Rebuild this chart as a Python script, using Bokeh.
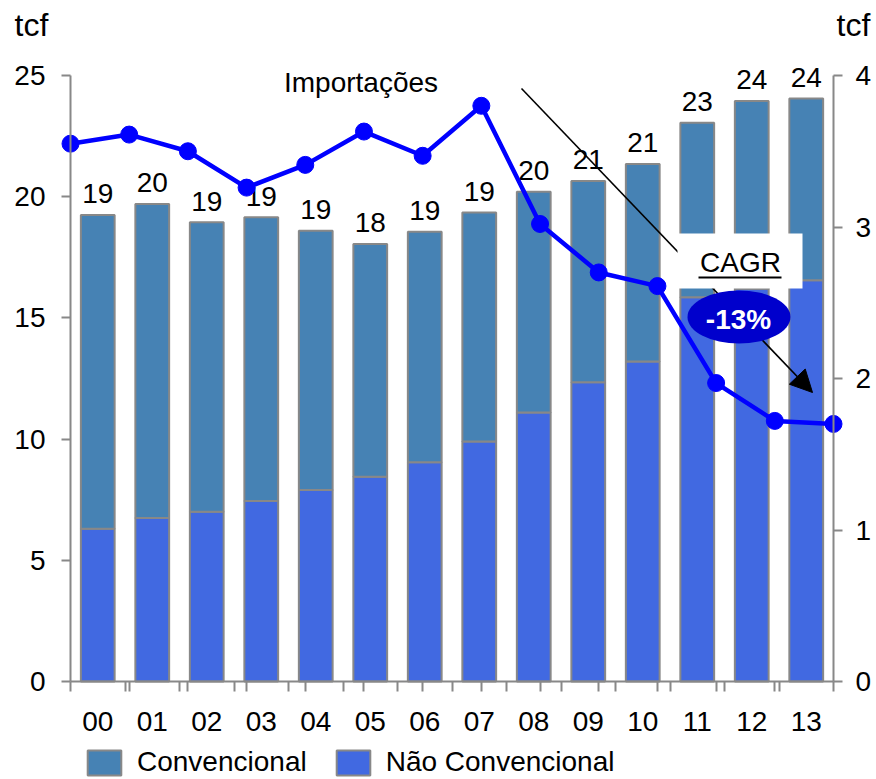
from bokeh.plotting import figure
from bokeh.models import (Range1d, LinearAxis, FixedTicker, Legend, LegendItem,
                          Label, Arrow, NormalHead, BoxAnnotation, ColumnDataSource)
from bokeh.core.properties import value
from bokeh.embed import file_html
from bokeh.resources import INLINE

# Gas production by source (tcf) and imports (tcf, right axis)
years = ["00", "01", "02", "03", "04", "05", "06", "07", "08", "09", "10", "11", "12", "13"]
nao_convencional = [6.3, 6.75, 7.0, 7.45, 7.9, 8.45, 9.05, 9.9, 11.1, 12.35, 13.2, 15.85, 16.2, 16.55]
convencional = [12.95, 12.95, 11.95, 11.7, 10.7, 9.6, 9.5, 9.45, 9.1, 8.3, 8.15, 7.2, 7.75, 7.5]
importacoes = [3.55, 3.61, 3.50, 3.26, 3.41, 3.63, 3.47, 3.80, 3.02, 2.70, 2.61, 1.97, 1.72, 1.70]
left_ticks = [0, 5, 10, 15, 20, 25]
right_ticks = [0, 1, 2, 3, 4]
LEFT_MAX, RIGHT_MAX = 25, 4

# canvas geometry (pixels): the plotting area spans the whole canvas and the
# axes are pinned inside it, so titles and the legend are never clipped
W, H = 876, 779
AX_L, AX_R, AX_T, AX_B = 70, 833, 75, 681

FONT = "Liberation Sans"
AXIS_GREY = "#888888"
C_CONV = "#4682B4"
C_NAO = "#4169E1"
C_LINE = "#0000FF"

n = len(years)


def fx(px):
    """canvas x pixel -> bar-category units"""
    return (px - AX_L) * n / (AX_R - AX_L)


def fy(py):
    """canvas y pixel -> left-axis units"""
    return (AX_B - py) * LEFT_MAX / (AX_B - AX_T)


centers = [i + 0.5 for i in range(n)]
totals = [a + b for a, b in zip(nao_convencional, convencional)]

src = ColumnDataSource(dict(
    x=centers, years=years, nao=nao_convencional, conv=convencional,
    total=totals, label=[f"{t:.0f}" for t in totals],
))
line_src = ColumnDataSource(dict(x=list(range(n)), y=importacoes))

p = figure(width=W, height=H, x_range=Range1d(fx(0), fx(W)), y_range=Range1d(fy(H), fy(0)),
           output_backend="svg", toolbar_location=None, min_border=0,
           min_border_left=0, min_border_right=0, min_border_top=0, min_border_bottom=0,
           outline_line_color=None, background_fill_color="white", border_fill_color="white")
p.extra_x_ranges = {"line": Range1d((0 - AX_L) * (n - 1) / (AX_R - AX_L),
                                    (W - AX_L) * (n - 1) / (AX_R - AX_L))}
p.extra_y_ranges = {"imp": Range1d((AX_B - H) * RIGHT_MAX / (AX_B - AX_T),
                                   AX_B * RIGHT_MAX / (AX_B - AX_T))}
p.grid.visible = False


def style_axis(ax, standoff):
    ax.axis_line_color = AXIS_GREY
    ax.axis_line_width = 2
    ax.major_tick_line_color = AXIS_GREY
    ax.major_tick_line_width = 2
    ax.major_label_text_font = FONT
    ax.major_label_text_font_size = "28px"
    ax.major_label_text_color = "black"
    ax.major_label_standoff = standoff


# x axis: category labels at bar centres, short ticks at bar edges and at import points
line_pos = [i * n / (n - 1) for i in range(n)]
xa = p.xaxis[0]
xa.fixed_location = 0
xa.bounds = (0, n)
xa.ticker = FixedTicker(ticks=centers, minor_ticks=list(range(n + 1)) + line_pos)
xa.major_label_overrides = {c: y for c, y in zip(centers, years)}
style_axis(xa, 20)
xa.major_tick_out = 0
xa.major_tick_in = 0
xa.minor_tick_out = 10
xa.minor_tick_in = 0
xa.minor_tick_line_color = AXIS_GREY
xa.minor_tick_line_width = 2

ya = p.yaxis[0]
ya.fixed_location = 0
ya.bounds = (0, LEFT_MAX)
ya.ticker = FixedTicker(ticks=left_ticks, minor_ticks=[])
style_axis(ya, 16)
ya.major_tick_out = 9
ya.major_tick_in = 0

ra = LinearAxis(y_range_name="imp", ticker=FixedTicker(ticks=right_ticks, minor_ticks=[]))
ra.fixed_location = n
ra.bounds = (0, RIGHT_MAX)
style_axis(ra, 13)
ra.major_tick_out = 9
ra.major_tick_in = 0
p.add_layout(ra, "right")

# stacked bars
bars = p.vbar_stack(["nao", "conv"], x="x", width=0.62, source=src,
                    fill_color=[C_NAO, C_CONV], line_color=AXIS_GREY, line_width=2)

# total labels above bars
p.text(x="x", y="total", text="label", source=src, text_align="center",
       text_baseline="middle", y_offset=-21, text_font=value(FONT),
       text_font_size="28px", text_color="black")

# imports line on its own x/y ranges
p.line(x="x", y="y", source=line_src, x_range_name="line", y_range_name="imp",
       line_color=C_LINE, line_width=4.5)
p.scatter(x="x", y="y", source=line_src, x_range_name="line", y_range_name="imp",
          size=17, fill_color=C_LINE, line_color=C_LINE)

# annotations
p.add_layout(Label(x=fx(360.5), y=fy(82), text="Importações", text_align="center",
                   text_baseline="middle", text_font=FONT, text_font_size="28px",
                   text_color="black"))
p.add_layout(Arrow(x_start=fx(521), y_start=fy(88), x_end=fx(812), y_end=fy(392),
                   line_color="black", line_width=1.6,
                   end=NormalHead(size=22, fill_color="black", line_color="black")))
p.add_layout(BoxAnnotation(left=fx(677), right=fx(802), top=fy(233), bottom=fy(288),
                           fill_color="white", fill_alpha=1, line_color=None))
p.add_layout(Label(x=fx(740), y=fy(262), text="CAGR", text_align="center",
                   text_baseline="middle", text_font=FONT, text_font_size="28px",
                   text_color="black", level="overlay"))
p.segment(x0=[fx(698)], y0=[fy(277)], x1=[fx(781)], y1=[fy(277)], line_color="black",
          line_width=2, level="overlay")
p.ellipse(x=[fx(738.5)], y=[fy(316.5)], width=fx(738.5 + 51.5) - fx(738.5 - 51.5),
          height=fy(316.5 - 26.5) - fy(316.5 + 26.5), fill_color="#0000CC",
          line_color=None, level="overlay")
p.add_layout(Label(x=fx(738), y=fy(319), text="-13%", text_align="center",
                   text_baseline="middle", text_font=FONT, text_font_size="28px",
                   text_font_style="bold", text_color="white", level="overlay"))

# unit labels above the axes
p.add_layout(Label(x=fx(14), y=fy(24), text="tcf", text_align="left",
                   text_baseline="middle", text_font=FONT, text_font_size="32px",
                   text_color="black"))
p.add_layout(Label(x=fx(836), y=fy(24), text="tcf", text_align="left",
                   text_baseline="middle", text_font=FONT, text_font_size="32px",
                   text_color="black"))

# legend under the category labels
legend = Legend(items=[LegendItem(label="Convencional", renderers=[bars[1]]),
                       LegendItem(label="Não Convencional", renderers=[bars[0]])],
                orientation="horizontal", location=(83, 1),
                glyph_width=42, glyph_height=31, label_standoff=12, spacing=25,
                padding=0, margin=0, border_line_color=None, background_fill_alpha=0,
                label_text_font=FONT, label_text_font_size="28px", label_text_color="black")
p.add_layout(legend, "center")

open("out.html", "w").write(file_html(p, INLINE))
